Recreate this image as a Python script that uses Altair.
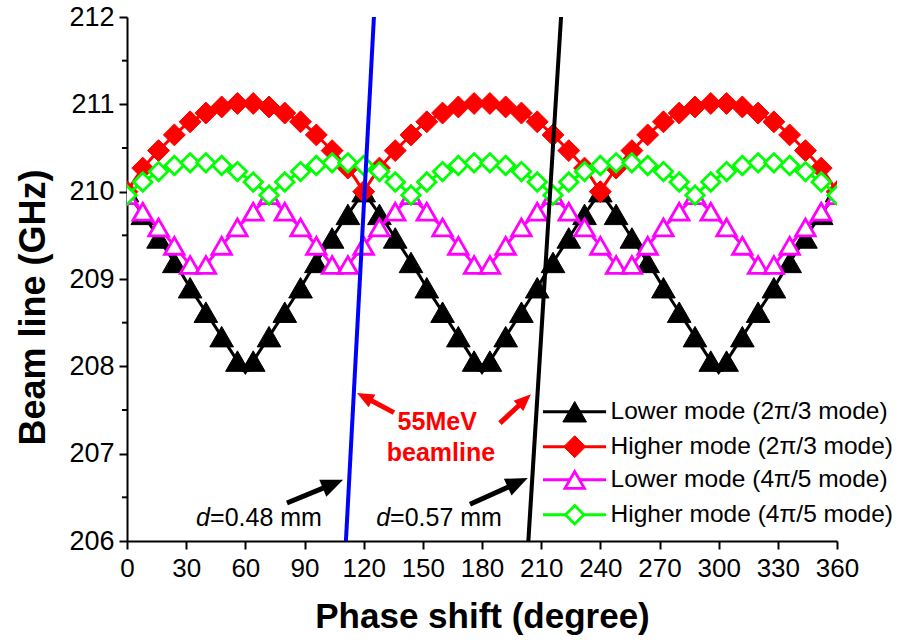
import math
import altair as alt
import pandas as pd

# ---------------- data ----------------
phase = list(range(0, 361, 4))  # degrees

lower_2pi3 = [
    210.00, 209.87, 209.74, 209.61, 209.47, 209.33, 209.19, 209.05, 208.90, 208.76, 208.62, 208.48, 208.34, 208.20, 208.06, 207.93,
    208.06, 208.20, 208.34, 208.48, 208.62, 208.76, 208.90, 209.05, 209.19, 209.33, 209.47, 209.61, 209.74, 209.87, 210.00,
    209.87, 209.74, 209.61, 209.47, 209.33, 209.19, 209.05, 208.90, 208.76, 208.62, 208.48, 208.34, 208.20, 208.06, 207.93,
    208.06, 208.20, 208.34, 208.48, 208.62, 208.76, 208.90, 209.05, 209.19, 209.33, 209.47, 209.61, 209.74, 209.87, 210.00,
    209.87, 209.74, 209.61, 209.47, 209.33, 209.19, 209.05, 208.90, 208.76, 208.62, 208.48, 208.34, 208.20, 208.06, 207.93,
    208.06, 208.20, 208.34, 208.48, 208.62, 208.76, 208.90, 209.05, 209.19, 209.33, 209.47, 209.61, 209.74, 209.87, 210.00,
]

higher_2pi3 = [
    210.00, 210.14, 210.27, 210.37, 210.47, 210.56, 210.65, 210.73, 210.80, 210.85, 210.90, 210.94, 210.97, 211.00, 211.01, 211.02,
    211.01, 211.00, 210.97, 210.94, 210.90, 210.85, 210.80, 210.73, 210.65, 210.56, 210.47, 210.37, 210.27, 210.14, 210.00,
    210.14, 210.27, 210.37, 210.47, 210.56, 210.65, 210.73, 210.80, 210.85, 210.90, 210.94, 210.97, 211.00, 211.01, 211.02,
    211.01, 211.00, 210.97, 210.94, 210.90, 210.85, 210.80, 210.73, 210.65, 210.56, 210.47, 210.37, 210.27, 210.14, 210.00,
    210.14, 210.27, 210.37, 210.47, 210.56, 210.65, 210.73, 210.80, 210.85, 210.90, 210.94, 210.97, 211.00, 211.01, 211.02,
    211.01, 211.00, 210.97, 210.94, 210.90, 210.85, 210.80, 210.73, 210.65, 210.56, 210.47, 210.37, 210.27, 210.14, 210.00,
]

lower_4pi5 = [
    209.96, 209.86, 209.77, 209.68, 209.59, 209.49, 209.38, 209.27, 209.16, 209.07,
    209.16, 209.27, 209.38, 209.49, 209.59, 209.68, 209.77, 209.86, 209.96,
    209.86, 209.77, 209.68, 209.59, 209.49, 209.38, 209.27, 209.16, 209.07,
    209.16, 209.27, 209.38, 209.49, 209.59, 209.68, 209.77, 209.86, 209.96,
    209.86, 209.77, 209.68, 209.59, 209.49, 209.38, 209.27, 209.16, 209.07,
    209.16, 209.27, 209.38, 209.49, 209.59, 209.68, 209.77, 209.86, 209.96,
    209.86, 209.77, 209.68, 209.59, 209.49, 209.38, 209.27, 209.16, 209.07,
    209.16, 209.27, 209.38, 209.49, 209.59, 209.68, 209.77, 209.86, 209.96,
    209.86, 209.77, 209.68, 209.59, 209.49, 209.38, 209.27, 209.16, 209.07,
    209.16, 209.27, 209.38, 209.49, 209.59, 209.68, 209.77, 209.86, 209.96,
]

higher_4pi5 = [
    209.96, 210.04, 210.11, 210.17, 210.23, 210.27, 210.30, 210.32, 210.33, 210.34,
    210.33, 210.32, 210.30, 210.27, 210.23, 210.17, 210.11, 210.04, 209.96,
    210.04, 210.11, 210.17, 210.23, 210.27, 210.30, 210.32, 210.33, 210.34,
    210.33, 210.32, 210.30, 210.27, 210.23, 210.17, 210.11, 210.04, 209.96,
    210.04, 210.11, 210.17, 210.23, 210.27, 210.30, 210.32, 210.33, 210.34,
    210.33, 210.32, 210.30, 210.27, 210.23, 210.17, 210.11, 210.04, 209.96,
    210.04, 210.11, 210.17, 210.23, 210.27, 210.30, 210.32, 210.33, 210.34,
    210.33, 210.32, 210.30, 210.27, 210.23, 210.17, 210.11, 210.04, 209.96,
    210.04, 210.11, 210.17, 210.23, 210.27, 210.30, 210.32, 210.33, 210.34,
    210.33, 210.32, 210.30, 210.27, 210.23, 210.17, 210.11, 210.04, 209.96,
]

series_names = ["Lower mode (2π/3 mode)", "Higher mode (2π/3 mode)",
                "Lower mode (4π/5 mode)", "Higher mode (4π/5 mode)"]
series_values = [lower_2pi3, higher_2pi3, lower_4pi5, higher_4pi5]

# 55 MeV beam lines (phase, frequency end points)
beam_048_phase = [111.0, 125.2]
beam_057_phase = [203.5, 220.1]
beam_freq = [206.0, 212.0]

x_ticks = list(range(0, 361, 30))
y_ticks = [206, 207, 208, 209, 210, 211, 212]
y_minor = [206.5, 207.5, 208.5, 209.5, 210.5, 211.5]

# ---------------- styling ----------------
W, H = 710, 524
FONT = "Liberation Sans"
colors = ["#000000", "#ff0000", "#ff00ff", "#00ff00"]
shapes = ["triangle-up", "diamond", "triangle-up", "diamond"]
fills = ["#000000", "#ff0000", "#ffffff", "#ffffff"]
sizes = [560, 480, 380, 340]
stroke_w = [1, 1, 2.8, 2.8]

xscale = alt.Scale(domain=[0, 360], nice=False, zero=False)
yscale = alt.Scale(domain=[206, 212], nice=False, zero=False)

xaxis = alt.Axis(values=x_ticks, format="d", tickSize=8, tickWidth=2, domainWidth=2,
                 domainColor="black", tickColor="black", labelFont=FONT, labelFontSize=26,
                 labelColor="black", labelPadding=6, grid=False, labelFlush=False,
                 title="Phase shift (degree)", titleFont=FONT, titleFontSize=35,
                 titleFontWeight="bold", titleColor="black", titlePadding=18)
yaxis = alt.Axis(values=y_ticks, format="d", tickSize=8, tickWidth=2, domainWidth=2,
                 domainColor="black", tickColor="black", labelFont=FONT, labelFontSize=27,
                 labelColor="black", labelPadding=5, grid=False, labelFlush=False,
                 title="Beam line (GHz)", titleFont=FONT, titleFontSize=36,
                 titleFontWeight="bold", titleColor="black",
                 titleX=-94, titleY=290, titleBaseline="middle", titleAlign="center")


def X(field):
    return alt.X(field, type="quantitative", scale=xscale, axis=xaxis)


def Y(field):
    return alt.Y(field, type="quantitative", scale=yscale, axis=yaxis)


layers = []

for i, (name, vals) in enumerate(zip(series_names, series_values)):
    df = pd.DataFrame({"phase": phase, "value": vals})
    mk = df[df["phase"] % 8 == 0]
    line = alt.Chart(df).mark_line(color=colors[i], strokeWidth=3, clip=True).encode(
        x=X("phase"), y=Y("value")
    )
    pts = alt.Chart(mk).mark_point(
        shape=shapes[i], size=sizes[i], filled=True, fill=fills[i], stroke=colors[i],
        strokeWidth=stroke_w[i], opacity=1, clip=True
    ).encode(x=X("phase"), y=Y("value"))
    layers += [line, pts]

# beam lines
for ph, col in [(beam_048_phase, "#0000ff"), (beam_057_phase, "#000000")]:
    bdf = pd.DataFrame({"phase": ph, "value": beam_freq})
    layers.append(
        alt.Chart(bdf).mark_line(color=col, strokeWidth=4, clip=True).encode(
            x=X("phase"), y=Y("value")
        )
    )

# minor ticks on y axis
minor_df = pd.DataFrame({"v": y_minor})
layers.append(
    alt.Chart(minor_df).mark_rule(color="black", strokeWidth=2).encode(
        y=Y("v"), x=alt.value(-5), x2=alt.value(0)
    )
)

# ---------------- annotations ----------------
ppd = W / 360.0
ppg = H / 6.0
arrows = [
    # tail phase, tail freq, tip phase, tip freq, color, head length px
    (81.1, 206.435, 109.6, 206.70, "#000000", 22),
    (173.9, 206.42, 203.2, 206.72, "#000000", 22),
    (135.4, 207.47, 116.6, 207.695, "#ff0000", 17),
    (189.1, 207.35, 204.8, 207.68, "#ff0000", 17),
]
for (tx, ty, hx, hy, col, hl) in arrows:
    dx = (hx - tx) * ppd
    dy = -(hy - ty) * ppg
    L = math.hypot(dx, dy)
    ang = math.degrees(math.atan2(dy, dx)) % 360
    f = 1 - (hl * 0.6) / L
    sx = tx + (hx - tx) * f
    sy = ty + (hy - ty) * f
    sdf = pd.DataFrame({"x": [tx], "y": [ty], "x2": [sx], "y2": [sy]})
    layers.append(
        alt.Chart(sdf).mark_rule(color=col, strokeWidth=5, strokeCap="butt").encode(
            x=X("x"), y=Y("y"), x2="x2", y2="y2"
        )
    )
    hdf = pd.DataFrame({"x": [hx], "y": [hy]})
    layers.append(
        alt.Chart(hdf).mark_point(
            shape="M0,0L-1,-0.42L-1,0.42Z", size=4 * hl * hl, filled=True,
            fill=col, strokeWidth=0, opacity=1, angle=ang
        ).encode(x=X("x"), y=Y("y"))
    )

red_text = pd.DataFrame({"x": [157.3, 159.2], "y": [207.36, 207.01], "t": ["55MeV", "beamline"]})
layers.append(
    alt.Chart(red_text).mark_text(font=FONT, fontSize=25, fontWeight="bold", color="#ff0000",
                                  align="center", baseline="middle").encode(
        x=X("x"), y=Y("y"), text="t:N")
)

d_df = pd.DataFrame({"x": [42.1, 133.4], "y": [206.26, 206.26]})
val_df = pd.DataFrame({"x": [42.1, 133.4], "y": [206.26, 206.26], "t": ["=0.48 mm", "=0.57 mm"]})
layers.append(
    alt.Chart(d_df).mark_text(text="d", font=FONT, fontSize=25, fontStyle="italic", color="black",
                              align="right", baseline="middle").encode(x=X("x"), y=Y("y"))
)
layers.append(
    alt.Chart(val_df).mark_text(font=FONT, fontSize=25, color="black",
                                align="left", baseline="middle").encode(
        x=X("x"), y=Y("y"), text="t:N")
)

# ---------------- legend (drawn in data space) ----------------
leg_y = [207.48, 207.08, 206.70, 206.30]
leg_x0, leg_x1, leg_xm, leg_xt = 210.9, 242.9, 227.0, 245.2
for i, name in enumerate(series_names):
    ldf = pd.DataFrame({"x": [leg_x0], "x2": [leg_x1], "xm": [leg_xm], "xt": [leg_xt],
                        "y": [leg_y[i]], "t": [name]})
    layers.append(
        alt.Chart(ldf).mark_rule(color=colors[i], strokeWidth=3).encode(
            x=X("x"), x2="x2", y=Y("y"))
    )
    layers.append(
        alt.Chart(ldf).mark_point(shape=shapes[i], size=sizes[i], filled=True, fill=fills[i],
                                  stroke=colors[i], strokeWidth=stroke_w[i], opacity=1).encode(
            x=X("xm"), y=Y("y"))
    )
    layers.append(
        alt.Chart(ldf).mark_text(font=FONT, fontSize=24.5, color="black", align="left",
                                 baseline="middle").encode(x=X("xt"), y=Y("y"), text="t:N")
    )

chart = alt.layer(*layers).properties(
    width=W, height=H,
    autosize=alt.AutoSizeParams(type="none"),
    padding={"left": 127, "top": 17, "right": 64, "bottom": 103},
    background="white",
).configure_view(stroke=None)

chart.save("out.html", embed_options={"renderer": "svg", "actions": False})
